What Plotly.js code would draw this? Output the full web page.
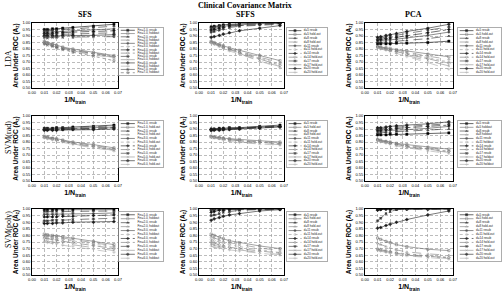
<!DOCTYPE html>
<html><head><meta charset="utf-8">
<script src="https://cdn.plot.ly/plotly-3.0.1.min.js"></script>
<style>html,body{margin:0;padding:0;background:#fff;overflow:hidden}#chart{width:503px;height:294px}</style>
</head><body><div id="chart"></div>
<script>
const W = 503, H = 294;
const xTrain = [0.01, 0.0125, 0.0167, 0.02, 0.025, 0.0333, 0.05, 0.0667];

const rowNames = ['LDA', 'SVM(rad)', 'SVM(poly)'];
const colNames = ['SFS', 'SFFS', 'PCA'];
const sfsParams7 = ['Fin=1.0', 'Fin=2.0', 'Fin=3.0', 'Fin=4.0', 'Fin=5.0', 'Fin=6.0', 'Fin=7.0'];
const sfsParams6 = ['Fin=1.0', 'Fin=2.0', 'Fin=3.0', 'Fin=4.0', 'Fin=5.0', 'Fin=6.0'];
const dParams = ['d=5', 'd=8', 'd=11', 'd=14', 'd=17', 'd=20'];

// ---- LDA ----
const ldaSfsResub = [
  [0.95,0.95,0.955,0.955,0.96,0.965,0.975,0.99],
  [0.94,0.94,0.945,0.945,0.95,0.955,0.965,0.975],
  [0.93,0.93,0.93,0.935,0.935,0.94,0.95,0.955],
  [0.92,0.92,0.92,0.925,0.925,0.93,0.935,0.94],
  [0.91,0.91,0.91,0.915,0.915,0.915,0.92,0.925],
  [0.90,0.90,0.90,0.90,0.905,0.905,0.905,0.91],
  [0.89,0.885,0.89,0.89,0.89,0.89,0.895,0.895]
];
const ldaSfsHold = [
  [0.86,0.85,0.84,0.83,0.815,0.80,0.775,0.75],
  [0.855,0.85,0.835,0.825,0.81,0.795,0.77,0.745],
  [0.85,0.845,0.835,0.825,0.81,0.79,0.765,0.74],
  [0.85,0.84,0.83,0.82,0.805,0.79,0.765,0.74],
  [0.845,0.84,0.825,0.815,0.80,0.785,0.76,0.735],
  [0.845,0.835,0.825,0.815,0.80,0.78,0.755,0.73],
  [0.84,0.83,0.82,0.81,0.795,0.775,0.745,0.71]
];
const ldaSffsResub = [
  [0.97,0.975,0.98,0.985,0.99,0.995,1.0,1.0],
  [0.965,0.97,0.975,0.98,0.985,0.99,0.995,1.0],
  [0.955,0.96,0.97,0.975,0.98,0.985,0.995,0.995],
  [0.945,0.95,0.96,0.965,0.975,0.98,0.99,0.995],
  [0.93,0.935,0.945,0.955,0.965,0.975,0.985,0.99],
  [0.89,0.895,0.905,0.915,0.925,0.94,0.96,0.98]
];
const ldaSffsHold = [
  [0.86,0.85,0.835,0.825,0.81,0.79,0.75,0.71],
  [0.855,0.845,0.83,0.82,0.80,0.78,0.74,0.695],
  [0.855,0.845,0.83,0.815,0.80,0.775,0.73,0.685],
  [0.85,0.84,0.825,0.81,0.795,0.77,0.72,0.675],
  [0.85,0.84,0.82,0.81,0.79,0.765,0.71,0.665],
  [0.845,0.835,0.82,0.805,0.785,0.76,0.705,0.655]
];
const ldaPcaResub = [
  [0.84,0.84,0.84,0.84,0.845,0.845,0.85,0.86],
  [0.85,0.85,0.855,0.855,0.86,0.865,0.88,0.90],
  [0.86,0.865,0.87,0.87,0.875,0.885,0.905,0.93],
  [0.87,0.875,0.88,0.885,0.89,0.90,0.925,0.95],
  [0.88,0.885,0.89,0.90,0.905,0.92,0.945,0.97],
  [0.89,0.895,0.905,0.91,0.92,0.935,0.96,0.99]
];
const ldaPcaHold = [
  [0.82,0.815,0.81,0.805,0.795,0.785,0.76,0.74],
  [0.82,0.815,0.805,0.80,0.79,0.775,0.745,0.72],
  [0.815,0.81,0.80,0.795,0.785,0.77,0.735,0.70],
  [0.815,0.805,0.80,0.79,0.78,0.76,0.725,0.69],
  [0.81,0.805,0.795,0.785,0.77,0.75,0.71,0.67],
  [0.81,0.80,0.79,0.78,0.765,0.74,0.695,0.645]
];

// ---- SVM (radial) ----
const radSfsResub = [
  [0.905,0.905,0.905,0.91,0.91,0.915,0.92,0.93],
  [0.90,0.90,0.905,0.905,0.905,0.91,0.915,0.925],
  [0.90,0.90,0.90,0.90,0.905,0.905,0.91,0.915],
  [0.895,0.895,0.90,0.90,0.90,0.90,0.905,0.91],
  [0.895,0.895,0.895,0.895,0.895,0.90,0.90,0.905],
  [0.89,0.89,0.89,0.89,0.895,0.895,0.895,0.90]
];
const radSfsHold = [
  [0.845,0.84,0.83,0.825,0.815,0.80,0.78,0.755],
  [0.84,0.835,0.83,0.82,0.81,0.795,0.775,0.75],
  [0.84,0.835,0.825,0.82,0.81,0.795,0.77,0.745],
  [0.835,0.83,0.825,0.815,0.805,0.79,0.765,0.74],
  [0.835,0.83,0.82,0.815,0.80,0.785,0.76,0.735],
  [0.83,0.825,0.815,0.81,0.80,0.78,0.755,0.73]
];
const radSffsResub = [
  [0.90,0.90,0.905,0.905,0.91,0.91,0.92,0.93],
  [0.90,0.90,0.90,0.905,0.905,0.91,0.915,0.925],
  [0.895,0.90,0.90,0.90,0.905,0.905,0.915,0.92],
  [0.895,0.895,0.90,0.90,0.90,0.905,0.91,0.92],
  [0.89,0.895,0.895,0.895,0.90,0.90,0.91,0.915],
  [0.89,0.89,0.89,0.895,0.895,0.90,0.905,0.915]
];
const radSffsHold = [
  [0.845,0.84,0.835,0.83,0.825,0.82,0.81,0.80],
  [0.84,0.84,0.835,0.83,0.825,0.815,0.805,0.795],
  [0.84,0.835,0.83,0.825,0.82,0.81,0.80,0.79],
  [0.84,0.835,0.83,0.825,0.815,0.81,0.795,0.785],
  [0.835,0.83,0.825,0.82,0.81,0.80,0.79,0.78],
  [0.835,0.83,0.825,0.815,0.805,0.795,0.785,0.775]
];
const radPcaResub = [
  [0.855,0.855,0.855,0.86,0.86,0.86,0.865,0.87],
  [0.87,0.87,0.875,0.875,0.88,0.885,0.89,0.90],
  [0.88,0.88,0.885,0.89,0.89,0.895,0.905,0.92],
  [0.89,0.89,0.895,0.90,0.905,0.91,0.92,0.93],
  [0.90,0.90,0.905,0.91,0.915,0.92,0.93,0.94],
  [0.91,0.91,0.915,0.92,0.925,0.93,0.94,0.955]
];
const radPcaHold = [
  [0.82,0.815,0.805,0.80,0.79,0.78,0.76,0.745],
  [0.82,0.81,0.805,0.795,0.785,0.775,0.755,0.735],
  [0.815,0.81,0.80,0.79,0.78,0.77,0.75,0.73],
  [0.815,0.805,0.80,0.79,0.78,0.765,0.745,0.725],
  [0.81,0.805,0.795,0.785,0.775,0.76,0.74,0.72],
  [0.81,0.80,0.79,0.78,0.77,0.755,0.73,0.71]
];

// ---- SVM (polynomial) ----
const polySfsResub = [
  [0.995,0.995,0.995,0.995,0.995,0.995,0.995,0.995],
  [0.98,0.98,0.98,0.98,0.98,0.98,0.985,0.985],
  [0.96,0.96,0.96,0.96,0.96,0.965,0.965,0.97],
  [0.94,0.94,0.94,0.94,0.945,0.945,0.95,0.955],
  [0.91,0.91,0.915,0.915,0.915,0.92,0.925,0.93],
  [0.89,0.89,0.89,0.895,0.895,0.90,0.90,0.905]
];
const polySfsHold = [
  [0.81,0.805,0.80,0.795,0.79,0.78,0.755,0.73],
  [0.80,0.795,0.79,0.785,0.78,0.77,0.745,0.72],
  [0.79,0.785,0.78,0.775,0.77,0.76,0.735,0.71],
  [0.78,0.775,0.77,0.765,0.755,0.745,0.725,0.70],
  [0.76,0.755,0.75,0.745,0.74,0.73,0.71,0.685],
  [0.75,0.745,0.74,0.735,0.725,0.715,0.695,0.67]
];
const polySffsResub = [
  [1.0,1.0,1.0,1.0,1.0,1.0,1.0,1.0],
  [0.995,1.0,1.0,1.0,1.0,1.0,1.0,1.0],
  [0.99,0.99,0.995,0.995,1.0,1.0,1.0,1.0],
  [0.975,0.98,0.99,0.99,0.995,0.995,1.0,1.0],
  [0.95,0.955,0.965,0.975,0.98,0.99,0.995,1.0],
  [0.915,0.925,0.935,0.945,0.955,0.965,0.985,0.995]
];
const polySffsHold = [
  [0.81,0.80,0.785,0.775,0.76,0.745,0.72,0.70],
  [0.79,0.78,0.765,0.755,0.745,0.73,0.705,0.685],
  [0.77,0.76,0.75,0.74,0.73,0.715,0.69,0.67],
  [0.75,0.74,0.73,0.72,0.71,0.70,0.68,0.665],
  [0.735,0.725,0.715,0.71,0.70,0.69,0.67,0.655],
  [0.72,0.71,0.705,0.695,0.69,0.68,0.665,0.65]
];
const polyPcaResub = [
  [1.0,1.0,1.0,1.0,1.0,1.0,1.0,1.0],
  [1.0,1.0,1.0,1.0,1.0,1.0,1.0,1.0],
  [0.995,1.0,1.0,1.0,1.0,1.0,1.0,1.0],
  [0.99,0.995,1.0,1.0,1.0,1.0,1.0,1.0],
  [0.91,0.93,0.965,0.98,0.995,1.0,1.0,1.0],
  [0.855,0.86,0.875,0.885,0.90,0.92,0.955,0.985]
];
const polyPcaHold = [
  [0.78,0.77,0.755,0.745,0.73,0.715,0.695,0.685],
  [0.74,0.73,0.715,0.705,0.69,0.675,0.66,0.65],
  [0.70,0.695,0.685,0.68,0.67,0.66,0.645,0.635],
  [0.695,0.69,0.68,0.675,0.665,0.655,0.64,0.63],
  [0.69,0.685,0.675,0.67,0.66,0.65,0.635,0.625],
  [0.685,0.68,0.67,0.665,0.655,0.645,0.63,0.62]
];

const panels = [
  {resub: ldaSfsResub, hold: ldaSfsHold, params: sfsParams7, sep: ', ', holdWord: 'holdout'},
  {resub: ldaSffsResub, hold: ldaSffsHold, params: dParams, sep: ' ', holdWord: 'hold-out'},
  {resub: ldaPcaResub, hold: ldaPcaHold, params: dParams, sep: ' ', holdWord: 'hold-out'},
  {resub: radSfsResub, hold: radSfsHold, params: sfsParams6, sep: ', ', holdWord: 'hold-out'},
  {resub: radSffsResub, hold: radSffsHold, params: dParams, sep: ' ', holdWord: 'hold-out'},
  {resub: radPcaResub, hold: radPcaHold, params: dParams, sep: ' ', holdWord: 'holdout'},
  {resub: polySfsResub, hold: polySfsHold, params: sfsParams6, sep: ', ', holdWord: 'holdout'},
  {resub: polySffsResub, hold: polySffsHold, params: dParams, sep: ' ', holdWord: 'hold-out'},
  {resub: polyPcaResub, hold: polyPcaHold, params: dParams, sep: ' ', holdWord: 'hold-out'}
];

// geometry (pixels)
const colX = [[32,118],[199,284],[365,453]];
const rowY = [[23,88],[116,181],[209,275]];
const legX = [[119,163],[287,327],[458,501]];
const legY = [[28,75],[121,167],[212,261]];

const resubColors = ['#000000','#2a2a2a','#404040','#111111','#333333','#1e1e1e','#4a4a4a'];
const holdColors = ['#666666','#808080','#999999','#707070','#8c8c8c','#a8a8a8','#5e5e5e'];
const resubDash = ['solid','dash','solid','dashdot','dash','solid','longdash'];
const holdDash = ['solid','dash','dot','dashdot','longdash','dash','dot'];
const resubSym = ['square','triangle-up','circle','diamond','x','cross','star'];
const holdSym = ['square-open','triangle-up-open','circle-open','diamond-open','x-thin','cross-thin','star-open'];

const SANS = 'Liberation Sans, Arial, sans-serif';
const SERIF = 'Liberation Serif, Times New Roman, serif';
const axName = i => (i === 1 ? '' : String(i));

const traces = [];
const layout = {
  width: W, height: H, margin: {l:0, r:0, t:0, b:0},
  paper_bgcolor: '#fff', plot_bgcolor: '#fff', showlegend: false,
  font: {family: SANS, color: '#000'},
  annotations: []
};

panels.forEach((p, idx) => {
  const r = Math.floor(idx / 3), c = idx % 3;
  const mi = idx + 1, li = idx + 10;
  const xa = 'x' + axName(mi), ya = 'y' + axName(mi);
  const lxa = 'x' + axName(li), lya = 'y' + axName(li);
  const n = p.resub.length;
  const nEntries = 2 * n;

  layout['xaxis' + axName(mi)] = {
    domain: [colX[c][0] / W, colX[c][1] / W], anchor: ya,
    range: [0, 0.07], dtick: 0.01, tick0: 0, tickformat: '.2f',
    showgrid: true, gridcolor: '#a0a0a0', griddash: '3px,2px', gridwidth: 0.7,
    zeroline: false, showline: true, mirror: true, linecolor: '#000', linewidth: 1,
    ticks: '', tickfont: {size: 4, family: SANS},
    title: {text: '<b>1/N<sub>train</sub></b>', font: {size: 7, family: SANS}, standoff: 3}
  };
  layout['yaxis' + axName(mi)] = {
    domain: [1 - rowY[r][1] / H, 1 - rowY[r][0] / H], anchor: xa,
    range: [0.5, 1.0], dtick: 0.05, tick0: 0.5, tickformat: '.2f',
    showgrid: true, gridcolor: '#a0a0a0', griddash: '3px,2px', gridwidth: 0.7,
    zeroline: false, showline: true, mirror: true, linecolor: '#000', linewidth: 1,
    ticks: '', tickfont: {size: 4, family: SANS},
    title: {text: '<b>Area Under ROC (A<sub>z</sub>)</b>', font: {size: 6.5, family: SANS}, standoff: 3}
  };
  layout['xaxis' + axName(li)] = {
    domain: [legX[c][0] / W, legX[c][1] / W], anchor: lya, range: [0, 1],
    showgrid: false, zeroline: false, showticklabels: false, ticks: '',
    showline: true, mirror: true, linecolor: '#999', linewidth: 0.8, fixedrange: true
  };
  layout['yaxis' + axName(li)] = {
    domain: [1 - legY[r][1] / H, 1 - legY[r][0] / H], anchor: lxa, range: [nEntries - 0.3, -0.7],
    showgrid: false, zeroline: false, showticklabels: false, ticks: '',
    showline: true, mirror: true, linecolor: '#999', linewidth: 0.8, fixedrange: true
  };

  const labels = [];
  const entryY = [];
  for (let s = 0; s < n; s++) {
    const styles = [
      {vals: p.resub[s], color: resubColors[s], dash: resubDash[s], sym: resubSym[s], word: 'resub'},
      {vals: p.hold[s], color: holdColors[s], dash: holdDash[s], sym: holdSym[s], word: p.holdWord}
    ];
    styles.forEach((st, k) => {
      const e = 2 * s + k;
      traces.push({
        type: 'scatter', mode: 'lines+markers', x: xTrain, y: st.vals, xaxis: xa, yaxis: ya,
        line: {color: st.color, width: 0.6, dash: st.dash},
        marker: {symbol: st.sym, size: 2.2, color: st.color, line: {color: st.color, width: 0.5}},
        hoverinfo: 'skip'
      });
      traces.push({
        type: 'scatter', mode: 'lines+markers', x: [0.04, 0.2, 0.36], y: [e, e, e], xaxis: lxa, yaxis: lya,
        line: {color: st.color, width: 0.6, dash: st.dash},
        marker: {symbol: st.sym, size: [0, 2.2, 0], color: st.color, line: {color: st.color, width: 0.5}},
        hoverinfo: 'skip'
      });
      labels.push(p.params[s] + p.sep + st.word);
      entryY.push(e);
    });
  }
  traces.push({
    type: 'scatter', mode: 'text', x: entryY.map(() => 0.42), y: entryY, text: labels,
    textposition: 'middle right', textfont: {size: 3, family: SANS, color: '#222'},
    xaxis: lxa, yaxis: lya, hoverinfo: 'skip', cliponaxis: false
  });
});

// titles
layout.annotations.push({text: '<b>Clinical Covariance Matrix</b>', x: 245 / W, y: 1 - 5 / H,
  xref: 'paper', yref: 'paper', showarrow: false, font: {family: SERIF, size: 8}, xanchor: 'center', yanchor: 'middle'});
const colTitleX = [85, 245, 413];
colNames.forEach((t, i) => layout.annotations.push({text: '<b>' + t + '</b>', x: colTitleX[i] / W, y: 1 - 14 / H,
  xref: 'paper', yref: 'paper', showarrow: false, font: {family: SERIF, size: 8}, xanchor: 'center', yanchor: 'middle'}));
const rowTitleY = [58, 138, 230];
rowNames.forEach((t, i) => layout.annotations.push({text: t, x: 8 / W, y: 1 - rowTitleY[i] / H, textangle: -90,
  xref: 'paper', yref: 'paper', showarrow: false, font: {family: SERIF, size: 8}, xanchor: 'center', yanchor: 'middle'}));

Plotly.newPlot('chart', traces, layout, {staticPlot: true, displayModeBar: false});
</script>
</body></html>
